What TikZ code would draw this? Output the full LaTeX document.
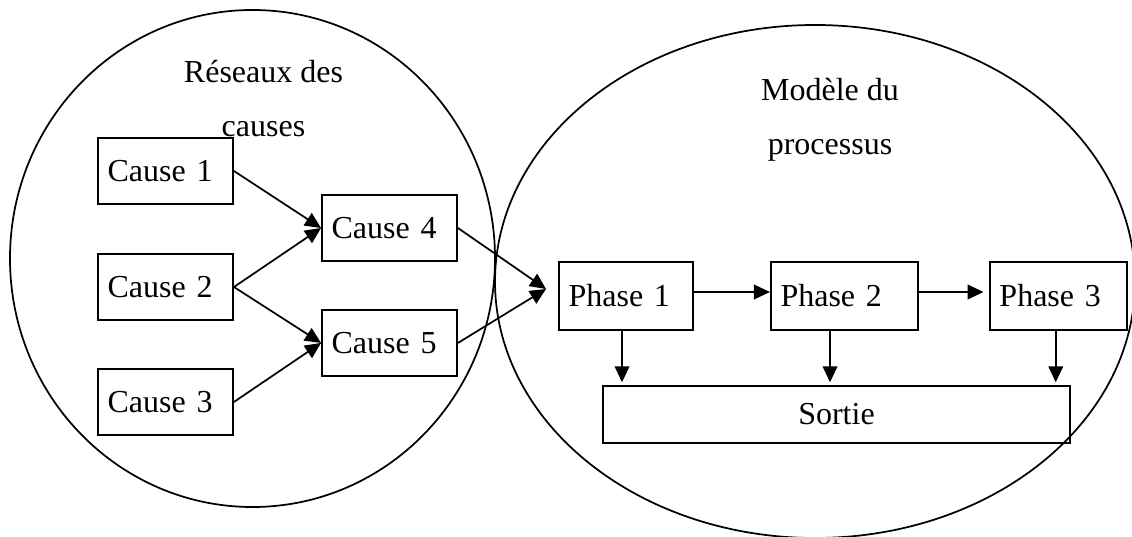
\documentclass[tikz,border=0pt]{standalone}
\usepackage{fontspec}
\setmainfont{Liberation Serif}
\usetikzlibrary{positioning}
\usetikzlibrary{arrows.meta}

\begin{document}
\begin{tikzpicture}[x=0.375pt,y=-0.375pt,
	>={Triangle[length=6pt,width=5.5pt]},
	every node/.style={font=\fontsize{12}{20.6}\selectfont},
	cause/.style={draw,line width=0.75pt,text width=43.4pt,align=left,inner xsep=3.6pt,minimum height=24.75pt},
	phase/.style={draw,line width=0.75pt,text width=#1,align=left,inner xsep=3.6pt,minimum height=25.5pt},
	lien/.style={->,line width=0.65pt}]
			\useasboundingbox (0,0) rectangle (1132,537);
			
			\draw[line width=0.65pt] (252.5,258.5) ellipse [x radius=90.94pt, y radius=93.19pt];
			\draw[line width=0.65pt] (815,281.5) ellipse [x radius=120pt, y radius=96.19pt];
			
			\node[align=center,anchor=base] (titre1) at (263.5,137) {Réseaux des\\causes};
			\node[align=center,anchor=base] (titre2) at (830,155) {Modèle du\\processus};
			
			\node[cause] (c1) at (165.5,171) {Cause 1};
			\node[cause] (c2) [below = 18pt of c1] {Cause 2};
			\node[cause] (c3) [below = 17.6pt of c2] {Cause 3};
			
			\node[cause] (c4) at (389.5,228) {Cause 4};
			\node[cause] (c5) [below = 17.6pt of c4] {Cause 5};
			
			\node[phase=43pt] (p1) at (626,296) {Phase 1};
			\node[phase=47.9pt] (p2) [right = 28.5pt of p1] {Phase 2};
			\node[phase=44.2pt] (p3) [right = 26.25pt of p2] {Phase 3};
			
			\node[draw,line width=0.75pt,minimum width=175.1pt,minimum height=21.4pt] (sortie) at (836.5,414.5) {Sortie};
			
			\coordinate (p1in) at (546,289);
			
			\draw[lien] (c1.east) -- (c4.west);
			\draw[lien] (c2.east) -- (c4.west);
			\draw[lien] (c2.east) -- (c5.west);
			\draw[lien] (c3.east) -- (c5.west);
			\draw[lien] (c4.east) -- (p1in);
			\draw[lien] (c5.east) -- (p1in);
			
			\draw[lien] ([yshift=1.5pt]p1.east) -- ([yshift=1.5pt]p2.west);
			\draw[lien,shorten >=2pt] ([yshift=1.5pt]p2.east) -- ([yshift=1.5pt]p3.west);
			
			\draw[lien,shorten >=1pt] ([xshift=-1.5pt]p1.south) -- ([xshift=-1.5pt]p1.south |- sortie.north);
			\draw[lien,shorten >=1pt] ([xshift=-5.4pt]p2.south) -- ([xshift=-5.4pt]p2.south |- sortie.north);
			\draw[lien,shorten >=1pt] ([xshift=-1pt]p3.south) -- ([xshift=-1pt]p3.south |- sortie.north);
\end{tikzpicture}
\end{document}
